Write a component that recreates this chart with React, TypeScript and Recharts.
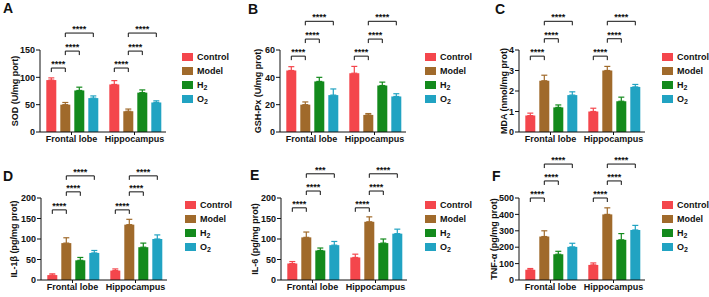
import { BarChart, Bar, XAxis, YAxis, ErrorBar } from 'recharts'

const regions = ['Frontal lobe', 'Hippocampus']
const groups = ['Control', 'Model', 'H2', 'O2']
const groupColors = ['#F4464C', '#A06A2B', '#138A1C', '#21A3C2']

// means / SEM per region, group order: Control, Model, H2, O2
const sodMeans = [[95, 50, 76, 62], [87, 38, 72, 54]]
const sodErrors = [[4, 4, 6, 4], [7, 4, 5, 3]]
const sodTicks = [0, 50, 100, 150]

const gshMeans = [[45, 20, 37, 27], [43, 12.5, 34, 26]]
const gshErrors = [[2.8, 2, 3, 4.5], [5, 1, 2.5, 2]]
const gshTicks = [0, 20, 40, 60]

const mdaMeans = [[0.8, 2.5, 1.2, 1.8], [1.0, 3.0, 1.5, 2.2]]
const mdaErrors = [[0.12, 0.27, 0.12, 0.16], [0.16, 0.2, 0.2, 0.12]]
const mdaTicks = [0, 1, 2, 3, 4]

const il1Means = [[12, 90, 48, 66], [23, 135, 80, 100]]
const il1Errors = [[3, 13, 7, 6], [4, 13, 10, 10]]
const il1Ticks = [0, 50, 100, 150, 200]

const il6Means = [[40, 104, 72, 85], [55, 142, 90, 113]]
const il6Errors = [[5, 13, 6, 9], [8, 12, 10, 11]]
const il6Ticks = [0, 50, 100, 150, 200]

const tnfMeans = [[62, 265, 157, 202], [92, 400, 245, 305]]
const tnfErrors = [[8, 35, 18, 22], [12, 40, 38, 28]]
const tnfTicks = [0, 100, 200, 300, 400, 500]

// Model vs Control, Model vs H2, Model vs O2
const sodStars = [['****', '****', '****'], ['****', '****', '****']]
const gshStars = [['****', '****', '****'], ['****', '****', '****']]
const mdaStars = [['****', '****', '****'], ['****', '****', '****']]
const il1Stars = [['****', '****', '****'], ['****', '****', '****']]
const il6Stars = [['****', '****', '***'], ['****', '****', '****']]
const tnfStars = [['****', '****', '****'], ['****', '****', '****']]

// bracket heights in axis units
const sodLevels = [117, 148, 181]
const gshLevels = [55.5, 68, 81]
const mdaLevels = [3.7, 4.55, 5.4]
const il1Levels = [171, 215, 254]
const il6Levels = [176, 217, 259]
const tnfLevels = [500, 604, 707]

const FONT = '"Liberation Sans", Arial, Helvetica, sans-serif'
const INK = '#111'
const BAR_GAP = 4

type Panel = {
  letter: string
  title: string
  means: number[][]
  errors: number[][]
  ticks: number[]
  stars: string[][]
  levels: number[]
  left: number
  top: number
  axisWidth: number
  titleX: number
  legendX: number
  letterX: number
  letterY: number
}

const panels: Panel[] = [
  { letter: 'A', title: 'SOD (U/mg port)', means: sodMeans, errors: sodErrors, ticks: sodTicks, stars: sodStars, levels: sodLevels, left: 0, top: 0, axisWidth: 40, titleX: 15, legendX: 182, letterX: 3, letterY: 0 },
  { letter: 'B', title: 'GSH-Px (U/mg prot)', means: gshMeans, errors: gshErrors, ticks: gshTicks, stars: gshStars, levels: gshLevels, left: 230, top: 0, axisWidth: 50, titleX: 28, legendX: 425, letterX: 248, letterY: 1 },
  { letter: 'C', title: 'MDA (nmol/mg prot)', means: mdaMeans, errors: mdaErrors, ticks: mdaTicks, stars: mdaStars, levels: mdaLevels, left: 470, top: 0, axisWidth: 49, titleX: 34, legendX: 662, letterX: 495, letterY: 1 },
  { letter: 'D', title: 'IL-1β (pg/mg prot)', means: il1Means, errors: il1Errors, ticks: il1Ticks, stars: il1Stars, levels: il1Levels, left: 0, top: 148, axisWidth: 41, titleX: 14, legendX: 185, letterX: 3, letterY: 168 },
  { letter: 'E', title: 'IL-6 (pg/mg prot)', means: il6Means, errors: il6Errors, ticks: il6Ticks, stars: il6Stars, levels: il6Levels, left: 230, top: 148, axisWidth: 51, titleX: 25, legendX: 425, letterX: 250, letterY: 167 },
  { letter: 'F', title: 'TNF-α (pg/mg prot)', means: tnfMeans, errors: tnfErrors, ticks: tnfTicks, stars: tnfStars, levels: tnfLevels, left: 470, top: 148, axisWidth: 49, titleX: 24, legendX: 662, letterX: 492, letterY: 168 },
]

const PLOT_W = 126
const CHART_H = 150

function buildRows(p: Panel) {
  return regions.map((region, r) => {
    const row: Record<string, unknown> = { region, idx: r }
    groups.forEach((_, g) => {
      row[`g${g}`] = p.means[r][g]
      row[`e${g}`] = [0, p.errors[r][g]]
    })
    return row
  })
}

// Model bar also carries the significance brackets of its region
function ModelBar(props: any) {
  const { x, y, width, height, fill, payload, panel } = props
  const p: Panel = panel
  const value = payload.g1 as number
  const unit = height / value
  const base = y + height
  const step = width + BAR_GAP
  const cm = x + width / 2
  const pairs = [
    [cm - step, cm],
    [cm, cm + step],
    [cm, cm + 2 * step],
  ]
  return (
    <g>
      <rect x={x} y={y} width={width} height={height} fill={fill} />
      {pairs.map(([a, b], k) => {
        const ly = base - p.levels[k] * unit
        return (
          <g key={k}>
            <path d={`M${a},${ly + 4}V${ly}H${b}V${ly + 4}`} fill="none" stroke={INK} strokeWidth={1} />
            <text x={(a + b) / 2} y={ly - 1} textAnchor="middle" fontSize={9} fontWeight={700} fill={INK} fontFamily={FONT}>
              {p.stars[payload.idx][k]}
            </text>
          </g>
        )
      })}
    </g>
  )
}

function GroupName({ name }: { name: string }) {
  const m = name.match(/^([A-Z]+)(\d)$/)
  if (!m) return <>{name}</>
  return (
    <>
      {m[1]}
      <sub style={{ fontSize: 7, verticalAlign: -2 }}>{m[2]}</sub>
    </>
  )
}

function GroupLegend({ left, top }: { left: number; top: number }) {
  return (
    <div style={{ position: 'absolute', left, top, fontFamily: FONT, fontSize: 9, fontWeight: 700, color: INK }}>
      {groups.map((g, i) => (
        <div key={g} style={{ display: 'flex', alignItems: 'center', height: 14, whiteSpace: 'nowrap' }}>
          <span style={{ display: 'inline-block', width: 11, height: 8, background: groupColors[i], marginRight: 4 }} />
          <span><GroupName name={g} /></span>
        </div>
      ))}
    </div>
  )
}

function PanelChart({ p }: { p: Panel }) {
  const rows = buildRows(p)
  const max = p.ticks[p.ticks.length - 1]
  const tickStyle = { fontSize: 9, fontWeight: 700, fill: INK, fontFamily: FONT }
  return (
    <>
      <div style={{ position: 'absolute', left: p.letterX, top: p.letterY, fontFamily: FONT, fontSize: 14, fontWeight: 700, color: INK }}>
        {p.letter}
      </div>
      <div style={{ position: 'absolute', left: p.left, top: p.top }}>
        <BarChart
          width={p.axisWidth + PLOT_W}
          height={CHART_H}
          data={rows}
          margin={{ top: 50, right: 0, bottom: 0, left: 0 }}
          barGap={BAR_GAP}
          barCategoryGap="10%"
        >
          <XAxis
            dataKey="region"
            height={18}
            interval={0}
            tickSize={3}
            tickMargin={1}
            tick={tickStyle}
            axisLine={{ stroke: INK }}
            tickLine={{ stroke: INK }}
          />
          <YAxis
            type="number"
            domain={[0, max]}
            ticks={p.ticks}
            interval={0}
            width={p.axisWidth}
            tickSize={4}
            tickMargin={1}
            tick={tickStyle}
            axisLine={{ stroke: INK }}
            tickLine={{ stroke: INK }}
            label={(lp: any) => {
              const vb = lp.viewBox || { y: 50, height: 82 }
              const cx = p.titleX
              const cy = vb.y + vb.height / 2
              return (
                <text
                  x={cx}
                  y={cy}
                  transform={`rotate(-90 ${cx} ${cy})`}
                  textAnchor="middle"
                  dominantBaseline="central"
                  fontSize={9}
                  fontWeight={700}
                  fill={INK}
                  fontFamily={FONT}
                >
                  {p.title}
                </text>
              )
            }}
          />
          {groups.map((g, i) => (
            <Bar
              key={g}
              dataKey={`g${i}`}
              fill={groupColors[i]}
              isAnimationActive={false}
              shape={i === 1 ? (bp: any) => <ModelBar {...bp} panel={p} /> : undefined}
            >
              <ErrorBar dataKey={`e${i}`} direction="y" width={3} stroke={groupColors[i]} strokeWidth={1.2} />
            </Bar>
          ))}
        </BarChart>
      </div>
      <GroupLegend left={p.legendX} top={p.top + 50} />
    </>
  )
}

export default function App() {
  return (
    <div style={{ position: 'absolute', left: 0, top: 0, width: 709, height: 297, background: '#fff' }}>
      {panels.map((p) => (
        <PanelChart key={p.letter} p={p} />
      ))}
    </div>
  )
}
